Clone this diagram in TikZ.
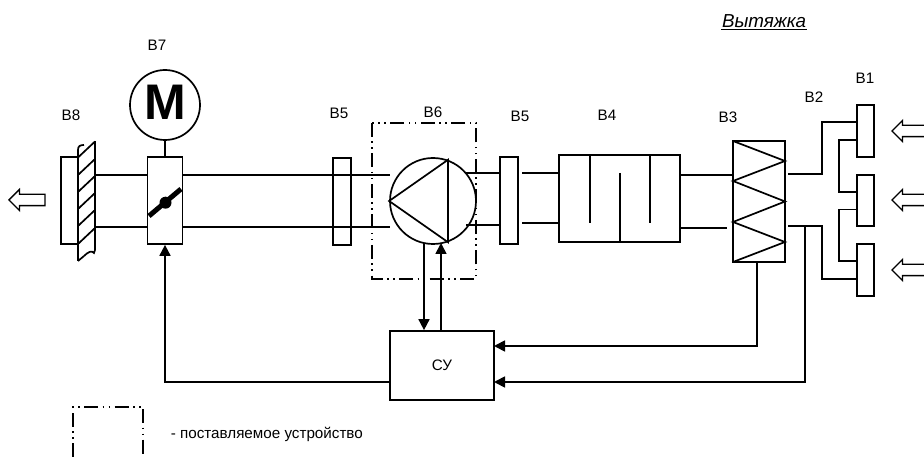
\documentclass[tikz,border=0pt]{standalone}
\usepackage{fontspec}
\setmainfont{Liberation Sans}
\usetikzlibrary{positioning,arrows.meta,shapes.arrows,calc}

\begin{document}
\begin{tikzpicture}[x=1pt,y=-1pt,>={Triangle[length=11pt,width=11pt]},
  line width=1.7pt,
  box/.style 2 args={draw,rectangle,inner sep=0pt,minimum width=#1,minimum height=#2},
  lbl/.style={font=\fontsize{15.2}{17}\selectfont,inner sep=0pt},
  supply/.style={line width=1.7pt,dash pattern=on 14pt off 4.5pt on 1.5pt off 4.5pt on 1.5pt off 4.5pt},
  flow/.style={draw,single arrow,line width=1.3pt,inner xsep=0pt,inner ysep=5pt,minimum width=20pt,
    single arrow head extend=5pt,single arrow tip angle=90,minimum height=#1,shape border rotate=180}
  ]
  \useasboundingbox (0,0) rectangle (924,457);

  % units
  \node[box={17pt}{87pt}] (grille) at (69.5,200.5) {};
  \node[box={35pt}{87pt}] (damper) at (165,200.5) {};
  \node[draw,circle,inner sep=0pt,minimum size=70pt] (motor) at (165,105) {};
  \node[font=\fontsize{50}{50}\selectfont\bfseries,inner sep=0pt] (motorm) at (165,102) {M};
  \node[box={18pt}{87pt}] (flexa) at (342,201.5) {};
  \node[draw,circle,inner sep=0pt,minimum size=86pt] (fan) at (433,201) {};
  \node[box={18pt}{87pt}] (flexb) at (509,200.5) {};
  \node[box={121pt}{87pt}] (filter) at (619.5,198.5) {};
  \node[box={52pt}{121pt}] (heater) at (759,201.5) {};
  \node[box={17pt}{52pt}] (gra) at (865.5,131) {};
  \node[box={17pt}{51pt}] (grb) at (865.5,200.5) {};
  \node[box={17pt}{52pt}] (grc) at (865.5,270) {};
  \node[box={104pt}{69pt},lbl] (cu) at (442,365.5) {СУ};

  % labels
  \node[lbl] (lb8) at (71,115) {В8};
  \node[lbl] (lb7) at (157,45) {В7};
  \node[lbl] (lb5a) at (339,113) {В5};
  \node[lbl] (lb6) at (433,112) {В6};
  \node[lbl] (lb5b) at (520,116) {В5};
  \node[lbl] (lb4) at (607,115) {В4};
  \node[lbl] (lb3) at (728,117) {В3};
  \node[lbl] (lb2) at (814,97) {В2};
  \node[lbl] (lb1) at (865,78) {В1};
  \node[lbl,font=\fontsize{18.8}{20}\selectfont\itshape,anchor=base east] (title) at (807,27.5) {Вытяжка};
  \node[lbl,anchor=west] (legend) at (170,434) {- поставляемое устройство};

  % free ends
  \coordinate (ductaup) at (96,175);
  \coordinate (ductalow) at (96,227);
  \coordinate (ductbup) at (390,175);
  \coordinate (ductblow) at (390,227);
  \coordinate (fanup) at (466,173);
  \coordinate (fanlow) at (466,225);
  \coordinate (ductcup) at (522,173);
  \coordinate (ductclow) at (522,223);
  \coordinate (filterlow) at (727,228);
  \coordinate (gridup) at (788,174);
  \coordinate (gridlow) at (788,226);
  \coordinate (fanout) at (424,243);
  \coordinate (fanin) at (441,243);
  \coordinate (heaterout) at (757,262);
  \coordinate (gridout) at (805,227);
  \coordinate (cuhigh) at (494,346);
  \coordinate (cumid) at (494,382);
  \coordinate (culow) at (390,382);

  % wall
  \draw (78,150) -- (78,261) (95,141) -- (95,250);
  \draw (78,150) .. controls (78,146) and (80,145) .. (84,145);
  \draw (84,256) .. controls (88,252) and (92,250) .. (94,253) -- (95,250);
  \foreach \yy in {141.5,159,176,193,210,228}
    \draw (78,\yy+16) -- (95,\yy);
  \draw (78,261) -- (84,256);

  % ducts
  \draw (ductaup) -- (damper.west |- ductaup);
  \draw (ductalow) -- (damper.west |- ductalow);
  \draw (damper.east |- ductbup) -- (ductbup);
  \draw (damper.east |- ductblow) -- (ductblow);
  \draw[line width=2.2pt] (216,174.8) -- (233,174.8);
  \draw (fanup) -- (flexb.west |- fanup);
  \draw (fanlow) -- (flexb.west |- fanlow);
  \draw (ductcup) -- (filter.west |- ductcup);
  \draw (ductclow) -- (filter.west |- ductclow);
  \draw (filter.east |- 0,175) -- (heater.west |- 0,175);
  \draw (filter.east |- filterlow) -- (filterlow);
  \draw (motor) -- (damper);

  % damper blade
  \draw[line width=5pt] (149,216) -- (181,189);
  \fill (165.5,202.7) circle (6pt);

  % fan
  \draw (fan.180) -- (fan.70) -- (fan.-70) -- cycle;
  \draw[supply] (372,123) rectangle (476,279);

  % filter baffles
  \draw (590,155) -- (590,223);
  \draw (620,173) -- (620,242);
  \draw (650,155) -- (650,223);

  % heater
  \draw (733,141) -- (785,161) -- (733,181) -- (785,201.5) -- (733,222) -- (785,242) -- (733,262);

  % grilles
  \draw (gridup) -- ++(34,0) |- ([yshift=9pt]gra.west);
  \draw ([yshift=-9pt]gra.west) -- ++(-17,0) |- ([yshift=8.5pt]grb.west);
  \draw ([yshift=-9pt]grb.west) -- ++(-17,0) |- ([yshift=9pt]grc.west);
  \draw (gridlow) -- ++(34,0) |- ([yshift=-9pt]grc.west);

  % control
  \draw[->] (culow) -| (damper.south);
  \draw[->] (fanout) -- (cu.north -| fanout);
  \draw[->] (cu.north -| fanin) -- (fanin);
  \draw[->] (heaterout) |- (cuhigh);
  \draw[->] (gridout) |- (cumid);

  % air flow
  \node[flow=36pt,anchor=tip] (flowout) at (8,200) {};
  \node[flow=40pt,anchor=tip] (flowa) at (891,131) {};
  \node[flow=40pt,anchor=tip] (flowb) at (891,200) {};
  \node[flow=40pt,anchor=tip] (flowc) at (891,270) {};

  % legend
  \draw[supply] (73,457) -- (73,407) -- (143,407) -- (143,457);
  \draw[line width=1.5pt] ([yshift=-2pt]title.base west) -- ([yshift=-2pt]title.base east);
\end{tikzpicture}
\end{document}
